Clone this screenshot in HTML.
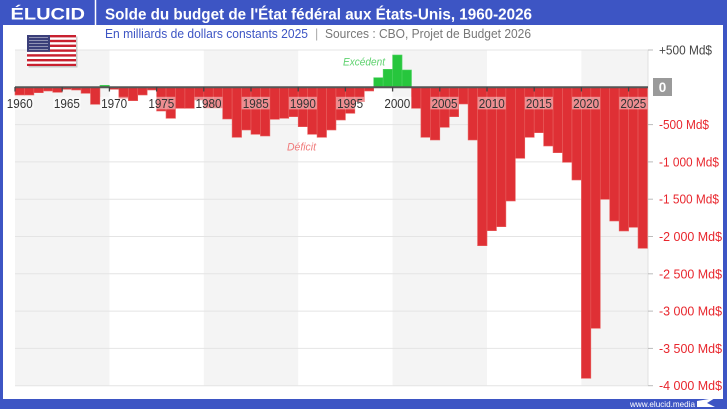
<!DOCTYPE html>
<html><head><meta charset="utf-8"><style>
html,body{margin:0;padding:0;background:#fff;}
svg{display:block;font-family:"Liberation Sans",sans-serif;}
</style></head><body>
<svg width="727" height="409" viewBox="0 0 727 409" xmlns="http://www.w3.org/2000/svg">
<rect x="0" y="0" width="727" height="409" fill="#ffffff"/>
<!-- plot background bands -->
<rect x="15" y="50" width="94.4" height="335.7" fill="#f4f4f4"/>
<rect x="203.8" y="50" width="94.4" height="335.7" fill="#f4f4f4"/>
<rect x="392.6" y="50" width="94.4" height="335.7" fill="#f4f4f4"/>
<rect x="581.4" y="50" width="66.1" height="335.7" fill="#f4f4f4"/>
<!-- gridlines -->
<g stroke="#e4e4e4" stroke-width="1">
<line x1="15" x2="648" y1="50" y2="50"/>
<line x1="15" x2="648" y1="124.6" y2="124.6"/>
<line x1="15" x2="648" y1="161.9" y2="161.9"/>
<line x1="15" x2="648" y1="199.2" y2="199.2"/>
<line x1="15" x2="648" y1="236.5" y2="236.5"/>
<line x1="15" x2="648" y1="273.8" y2="273.8"/>
<line x1="15" x2="648" y1="311.1" y2="311.1"/>
<line x1="15" x2="648" y1="348.4" y2="348.4"/>
<line x1="15" x2="648" y1="385.7" y2="385.7"/>
</g>
<line x1="648" x2="648" y1="50" y2="386" stroke="#e0e0e0" stroke-width="1"/>
<g stroke="#bbbbbb" stroke-width="1">
<line x1="648" x2="653" y1="50" y2="50"/>
<line x1="648" x2="653" y1="124.6" y2="124.6"/>
<line x1="648" x2="653" y1="161.9" y2="161.9"/>
<line x1="648" x2="653" y1="199.2" y2="199.2"/>
<line x1="648" x2="653" y1="236.5" y2="236.5"/>
<line x1="648" x2="653" y1="273.8" y2="273.8"/>
<line x1="648" x2="653" y1="311.1" y2="311.1"/>
<line x1="648" x2="653" y1="348.4" y2="348.4"/>
<line x1="648" x2="653" y1="385.7" y2="385.7"/>
</g>
<!-- negative bars -->
<g fill="#df3035" stroke="#e8605f" stroke-width="0.6">
<rect x="15.00" y="87.3" width="9.44" height="7.7"/>
<rect x="24.44" y="87.3" width="9.44" height="7.7"/>
<rect x="33.88" y="87.3" width="9.44" height="5.4"/>
<rect x="43.32" y="87.3" width="9.44" height="3.7"/>
<rect x="52.76" y="87.3" width="9.44" height="5"/>
<rect x="62.20" y="87.3" width="9.44" height="2"/>
<rect x="71.64" y="87.3" width="9.44" height="2.7"/>
<rect x="81.08" y="87.3" width="9.44" height="6"/>
<rect x="90.52" y="87.3" width="9.44" height="17"/>
<rect x="109.40" y="87.3" width="9.44" height="2"/>
<rect x="118.84" y="87.3" width="9.44" height="11"/>
<rect x="128.28" y="87.3" width="9.44" height="13.4"/>
<rect x="137.72" y="87.3" width="9.44" height="7.7"/>
<rect x="147.16" y="87.3" width="9.44" height="2.7"/>
<rect x="156.60" y="87.3" width="9.44" height="23.7"/>
<rect x="166.04" y="87.3" width="9.44" height="31"/>
<rect x="175.48" y="87.3" width="9.44" height="21"/>
<rect x="184.92" y="87.3" width="9.44" height="21"/>
<rect x="194.36" y="87.3" width="9.44" height="12.7"/>
<rect x="203.80" y="87.3" width="9.44" height="20.7"/>
<rect x="213.24" y="87.3" width="9.44" height="20.7"/>
<rect x="222.68" y="87.3" width="9.44" height="31.7"/>
<rect x="232.12" y="87.3" width="9.44" height="50"/>
<rect x="241.56" y="87.3" width="9.44" height="42.7"/>
<rect x="251.00" y="87.3" width="9.44" height="47"/>
<rect x="260.44" y="87.3" width="9.44" height="48.7"/>
<rect x="269.88" y="87.3" width="9.44" height="32"/>
<rect x="279.32" y="87.3" width="9.44" height="31"/>
<rect x="288.76" y="87.3" width="9.44" height="29.4"/>
<rect x="298.20" y="87.3" width="9.44" height="39.4"/>
<rect x="307.64" y="87.3" width="9.44" height="47"/>
<rect x="317.08" y="87.3" width="9.44" height="50"/>
<rect x="326.52" y="87.3" width="9.44" height="42.7"/>
<rect x="335.96" y="87.3" width="9.44" height="32.7"/>
<rect x="345.40" y="87.3" width="9.44" height="26"/>
<rect x="354.84" y="87.3" width="9.44" height="14.4"/>
<rect x="364.28" y="87.3" width="9.44" height="3.7"/>
<rect x="411.48" y="87.3" width="9.44" height="21"/>
<rect x="420.92" y="87.3" width="9.44" height="50"/>
<rect x="430.36" y="87.3" width="9.44" height="52.7"/>
<rect x="439.80" y="87.3" width="9.44" height="40"/>
<rect x="449.24" y="87.3" width="9.44" height="29.4"/>
<rect x="458.68" y="87.3" width="9.44" height="16.7"/>
<rect x="468.12" y="87.3" width="9.44" height="52.7"/>
<rect x="477.56" y="87.3" width="9.44" height="158.4"/>
<rect x="487.00" y="87.3" width="9.44" height="143.4"/>
<rect x="496.44" y="87.3" width="9.44" height="139.4"/>
<rect x="505.88" y="87.3" width="9.44" height="113.7"/>
<rect x="515.32" y="87.3" width="9.44" height="71"/>
<rect x="524.76" y="87.3" width="9.44" height="50"/>
<rect x="534.20" y="87.3" width="9.44" height="45.4"/>
<rect x="543.64" y="87.3" width="9.44" height="58.7"/>
<rect x="553.08" y="87.3" width="9.44" height="65.4"/>
<rect x="562.52" y="87.3" width="9.44" height="75"/>
<rect x="571.96" y="87.3" width="9.44" height="92.7"/>
<rect x="581.40" y="87.3" width="9.44" height="291"/>
<rect x="590.84" y="87.3" width="9.44" height="241"/>
<rect x="600.28" y="87.3" width="9.44" height="112"/>
<rect x="609.72" y="87.3" width="9.44" height="133.7"/>
<rect x="619.16" y="87.3" width="9.44" height="143.7"/>
<rect x="628.60" y="87.3" width="9.44" height="140"/>
<rect x="638.04" y="87.3" width="9.44" height="161"/>
</g>
<!-- positive bars -->
<g fill="#27c63d" stroke="#4fd361" stroke-width="0.6">
<rect x="99.96" y="85.3" width="9.44" height="2"/>
<rect x="373.72" y="77.7" width="9.44" height="9.6"/>
<rect x="383.16" y="69.3" width="9.44" height="18"/>
<rect x="392.60" y="55" width="9.44" height="32.3"/>
<rect x="402.04" y="70" width="9.44" height="17.3"/>
</g>
<!-- zero line -->
<line x1="15" x2="648" y1="87.3" y2="87.3" stroke="#555555" stroke-width="2"/>
<g stroke="#444444" stroke-width="1.3">
<line x1="15" x2="15" y1="87" y2="91.5"/>
<line x1="62.2" x2="62.2" y1="87" y2="91.5"/>
<line x1="109.4" x2="109.4" y1="87" y2="91.5"/>
<line x1="156.6" x2="156.6" y1="87" y2="91.5"/>
<line x1="203.8" x2="203.8" y1="87" y2="91.5"/>
<line x1="251" x2="251" y1="87" y2="91.5"/>
<line x1="298.2" x2="298.2" y1="87" y2="91.5"/>
<line x1="345.4" x2="345.4" y1="87" y2="91.5"/>
<line x1="392.6" x2="392.6" y1="87" y2="91.5"/>
<line x1="439.8" x2="439.8" y1="87" y2="91.5"/>
<line x1="487" x2="487" y1="87" y2="91.5"/>
<line x1="534.2" x2="534.2" y1="87" y2="91.5"/>
<line x1="581.4" x2="581.4" y1="87" y2="91.5"/>
<line x1="628.6" x2="628.6" y1="87" y2="91.5"/>
</g>
<!-- x label boxes -->
<g fill="#ffffff" fill-opacity="0.45">
<rect x="5.7" y="96.8" width="28" height="12.6"/>
<rect x="52.9" y="96.8" width="28" height="12.6"/>
<rect x="100.1" y="96.8" width="28" height="12.6"/>
<rect x="147.3" y="96.8" width="28" height="12.6"/>
<rect x="194.5" y="96.8" width="28" height="12.6"/>
<rect x="241.7" y="96.8" width="28" height="12.6"/>
<rect x="288.9" y="96.8" width="28" height="12.6"/>
<rect x="336.1" y="96.8" width="28" height="12.6"/>
<rect x="383.3" y="96.8" width="28" height="12.6"/>
<rect x="430.5" y="96.8" width="28" height="12.6"/>
<rect x="477.7" y="96.8" width="28" height="12.6"/>
<rect x="524.9" y="96.8" width="28" height="12.6"/>
<rect x="572.1" y="96.8" width="28" height="12.6"/>
<rect x="619.3" y="96.8" width="28" height="12.6"/>
</g>
<g fill="#333333" font-size="13" text-anchor="middle">
<text x="19.72" y="107.8" textLength="26" lengthAdjust="spacingAndGlyphs">1960</text>
<text x="66.92" y="107.8" textLength="26" lengthAdjust="spacingAndGlyphs">1965</text>
<text x="114.12" y="107.8" textLength="26" lengthAdjust="spacingAndGlyphs">1970</text>
<text x="161.32" y="107.8" textLength="26" lengthAdjust="spacingAndGlyphs">1975</text>
<text x="208.52" y="107.8" textLength="26" lengthAdjust="spacingAndGlyphs">1980</text>
<text x="255.72" y="107.8" textLength="26" lengthAdjust="spacingAndGlyphs">1985</text>
<text x="302.92" y="107.8" textLength="26" lengthAdjust="spacingAndGlyphs">1990</text>
<text x="350.12" y="107.8" textLength="26" lengthAdjust="spacingAndGlyphs">1995</text>
<text x="397.32" y="107.8" textLength="26" lengthAdjust="spacingAndGlyphs">2000</text>
<text x="444.52" y="107.8" textLength="26" lengthAdjust="spacingAndGlyphs">2005</text>
<text x="491.72" y="107.8" textLength="26" lengthAdjust="spacingAndGlyphs">2010</text>
<text x="538.92" y="107.8" textLength="26" lengthAdjust="spacingAndGlyphs">2015</text>
<text x="586.12" y="107.8" textLength="26" lengthAdjust="spacingAndGlyphs">2020</text>
<text x="633.32" y="107.8" textLength="26" lengthAdjust="spacingAndGlyphs">2025</text>
</g>
<!-- annotations -->
<text x="343" y="65.5" font-size="11" font-style="italic" fill="#5fd26f" textLength="42" lengthAdjust="spacingAndGlyphs">Excédent</text>
<text x="287" y="150.5" font-size="11" font-style="italic" fill="#f07a7a" textLength="29" lengthAdjust="spacingAndGlyphs">Déficit</text>
<!-- y labels -->
<text x="659" y="54.5" font-size="12.5" fill="#444444" textLength="53" lengthAdjust="spacingAndGlyphs">+500 Md$</text>
<rect x="653" y="78" width="19" height="18" fill="#9a9a9a"/>
<text x="662.5" y="92" font-size="13.5" font-weight="bold" fill="#ffffff" text-anchor="middle">0</text>
<g fill="#e8262d" font-size="12.5">
<text x="659" y="129.1" textLength="50" lengthAdjust="spacingAndGlyphs">-500 Md$</text>
<text x="659" y="166.4" textLength="60" lengthAdjust="spacingAndGlyphs">-1 000 Md$</text>
<text x="659" y="203.7" textLength="60" lengthAdjust="spacingAndGlyphs">-1 500 Md$</text>
<text x="659" y="241" textLength="63" lengthAdjust="spacingAndGlyphs">-2 000 Md$</text>
<text x="659" y="278.3" textLength="63" lengthAdjust="spacingAndGlyphs">-2 500 Md$</text>
<text x="659" y="315.6" textLength="63" lengthAdjust="spacingAndGlyphs">-3 000 Md$</text>
<text x="659" y="352.9" textLength="63" lengthAdjust="spacingAndGlyphs">-3 500 Md$</text>
<text x="659" y="390.2" textLength="63" lengthAdjust="spacingAndGlyphs">-4 000 Md$</text>
</g>
<!-- flag -->
<rect x="28.5" y="36.5" width="49" height="31" fill="#999999" opacity="0.5"/>
<g>
<rect x="27" y="35" width="49" height="31" fill="#ffffff"/>
<g fill="#c8202f">
<rect x="27" y="35" width="49" height="2.4"/>
<rect x="27" y="39.8" width="49" height="2.4"/>
<rect x="27" y="44.6" width="49" height="2.4"/>
<rect x="27" y="49.4" width="49" height="2.4"/>
<rect x="27" y="54.2" width="49" height="2.4"/>
<rect x="27" y="59" width="49" height="2.4"/>
<rect x="27" y="63.8" width="49" height="2.2"/>
</g>
<rect x="27" y="35" width="23" height="16.8" fill="#3b3f7a"/>
<g fill="#ffffff" opacity="0.55">
<rect x="29" y="37" width="19" height="0.8"/>
<rect x="29" y="40" width="19" height="0.8"/>
<rect x="29" y="43" width="19" height="0.8"/>
<rect x="29" y="46" width="19" height="0.8"/>
<rect x="29" y="49" width="19" height="0.8"/>
</g>
</g>
<!-- frame -->
<rect x="0" y="0" width="727" height="25" fill="#3d55c4"/>
<rect x="0" y="0" width="3" height="409" fill="#3d55c4"/>
<rect x="723" y="0" width="4" height="409" fill="#3d55c4"/>
<rect x="0" y="399" width="727" height="10" fill="#3d55c4"/>
<line x1="95.5" x2="95.5" y1="0" y2="25" stroke="#ffffff" stroke-width="1.5"/>
<text x="10.5" y="19.5" font-size="17" font-weight="bold" fill="#ffffff" textLength="74.5" lengthAdjust="spacingAndGlyphs">ÉLUCID</text>
<text x="105" y="19.3" font-size="15.4" font-weight="bold" fill="#ffffff" textLength="427" lengthAdjust="spacingAndGlyphs">Solde du budget de l'État fédéral aux États-Unis, 1960-2026</text>
<text x="105" y="38" font-size="12.5" fill="#3d55c4" textLength="203" lengthAdjust="spacingAndGlyphs">En milliards de dollars constants 2025</text>
<text x="315" y="38" font-size="12.5" fill="#aaaaaa">|</text>
<text x="325" y="38" font-size="12.5" fill="#777777" textLength="206" lengthAdjust="spacingAndGlyphs">Sources : CBO, Projet de Budget 2026</text>
<text x="630" y="406.8" font-size="8.5" fill="#ffffff" textLength="65" lengthAdjust="spacingAndGlyphs">www.elucid.media</text>
<polygon points="697,401 715,398 707,403 715,407 697,407" fill="#ffffff"/>
</svg>
</body></html>
